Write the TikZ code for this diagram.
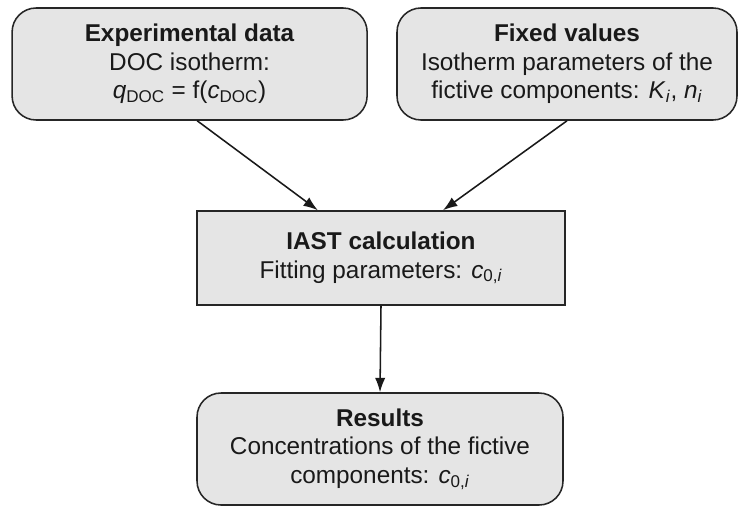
\documentclass[tikz,border=0pt]{standalone}
\usepackage{fontspec}
\setmainfont{Liberation Sans}
\usetikzlibrary{arrows.meta}

\tikzset{
  roundbox/.style={draw=black!85, line width=1.1pt, fill=black!10, rounded corners=0.6cm,
    align=center, minimum height=2.8cm, inner sep=0pt, text=black!90,
    font=\fontsize{17.3}{20.3}\selectfont},
  flatbox/.style={roundbox, rounded corners=0pt, minimum height=2.35cm},
  flow/.style={draw=black!90, line width=1.1pt, -{Latex[length=0.36cm,width=0.26cm]}}
}

\begin{document}
\begin{tikzpicture}

\useasboundingbox (0,0) rectangle (18.475,-12.675);

% Входные блоки
\node[roundbox, minimum width=8.875cm] (exp) at (4.74,-1.6)
  {\textbf{Experimental data}\\DOC isotherm:\\\textit{q}\textsubscript{DOC} = f(\textit{c}\textsubscript{DOC})};
\node[roundbox, minimum width=8.5cm] (fix) at (14.175,-1.6)
  {\textbf{Fixed values}\\Isotherm parameters of the\\fictive components: \textit{K}\textsubscript{\textit{i}}, \textit{n}\textsubscript{\textit{i}}};

% Расчёт
\node[flatbox, minimum width=9.2cm] (iast) at (9.525,-6.45)
  {\textbf{IAST calculation}\\Fitting parameters: \textit{c}\textsubscript{0,\textit{i}}};

% Результат
\node[roundbox, minimum width=9.15cm] (res) at (9.5,-11.225)
  {\textbf{Results}\\Concentrations of the fictive\\components: \textit{c}\textsubscript{0,\textit{i}}};

% Стрелки
\draw[flow] ([xshift=0.19cm]exp.south) -- ([xshift=-1.58cm]iast.north);
\draw[flow] (fix.south) -- ([xshift=1.55cm]iast.north);
\draw[flow] (iast.south) -- (res.north);

\end{tikzpicture}
\end{document}
